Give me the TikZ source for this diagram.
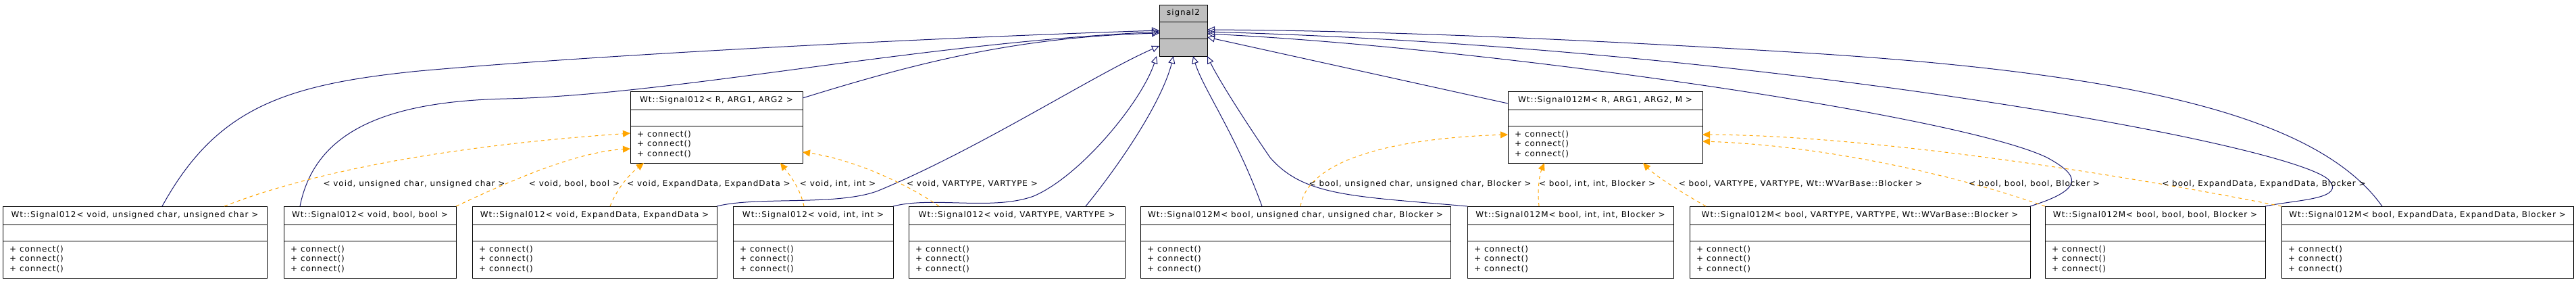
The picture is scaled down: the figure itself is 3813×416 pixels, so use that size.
\documentclass[tikz,border=0pt]{standalone}
\usepackage{fontspec}
\setmainfont{DejaVu Sans}[LetterSpace=8]
\usetikzlibrary{
    arrows.meta,
    fit,
    positioning
}

\definecolor{edgeblue}{HTML}{191970}
\definecolor{tmplorange}{HTML}{FFA500}
\definecolor{basegray}{HTML}{BFBFBF}

% one class box: name, left, right, top, title
\newcommand{\umlclass}[5]{%
    \node[umlbox, fit={(#2,#4) (#3,#4+106)}] (#1) {};
    \draw[umlbox] ([yshift=-27pt]#1.north west) -- ([yshift=-27pt]#1.north east)
                  ([yshift=-51pt]#1.north west) -- ([yshift=-51pt]#1.north east);
    \node[umltext] at ([yshift=-13.5pt]#1.north) {#5};
    \node[umlops] at ([xshift=10pt,yshift=-58pt]#1.north west)
        {+ connect()\\+ connect()\\+ connect()};
}

\begin{document}
\begin{tikzpicture}[x=1pt,y=-1pt,
    umlbox/.style={draw=black, line width=1pt, inner sep=0pt, outer sep=0pt},
    umltext/.style={inner sep=0pt, font=\fontsize{12}{14.5}\selectfont},
    umlops/.style={umltext, anchor=north west, align=left},
    lbl/.style={umltext},
    inherit/.style={draw=edgeblue, line width=1pt,
        -{Triangle[open, length=11pt, width=10pt]}},
    instance/.style={draw=tmplorange, line width=1pt, dash pattern=on 5pt off 5pt,
        -{Triangle[length=11pt, width=10pt]}}]
    \useasboundingbox (0,0) rectangle (3813,416);

    % base class
    \node[umlbox, fill=basegray, fit={(1716,7) (1787,83)}] (s2) {};
    \draw[umlbox] ([yshift=-25pt]s2.north west) -- ([yshift=-25pt]s2.north east)
                  ([yshift=-50pt]s2.north west) -- ([yshift=-50pt]s2.north east);
    \node[umltext] at ([yshift=-12.5pt]s2.north) {signal2};

    % templates
    \umlclass{t1}{933}{1188}{135}{Wt::Signal012< R, ARG1, ARG2 >}
    \umlclass{t2}{2232}{2520}{135}{Wt::Signal012M< R, ARG1, ARG2, M >}

    % instances
    \umlclass{b1}{4}{395}{305}{Wt::Signal012< void, unsigned char, unsigned char >}
    \umlclass{b2}{420}{675}{305}{Wt::Signal012< void, bool, bool >}
    \umlclass{b3}{699}{1061}{305}{Wt::Signal012< void, ExpandData, ExpandData >}
    \umlclass{b4}{1085}{1322}{305}{Wt::Signal012< void, int, int >}
    \umlclass{b5}{1345}{1665}{305}{Wt::Signal012< void, VARTYPE, VARTYPE >}
    \umlclass{b6}{1688}{2147}{305}{Wt::Signal012M< bool, unsigned char, unsigned char, Blocker >}
    \umlclass{b7}{2172}{2477}{305}{Wt::Signal012M< bool, int, int, Blocker >}
    \umlclass{b8}{2501}{3005}{305}{Wt::Signal012M< bool, VARTYPE, VARTYPE, Wt::WVarBase::Blocker >}
    \umlclass{b9}{3027}{3353}{305}{Wt::Signal012M< bool, bool, bool, Blocker >}
    \umlclass{b10}{3377}{3809}{305}{Wt::Signal012M< bool, ExpandData, ExpandData, Blocker >}

    % inheritance
    \draw[inherit] (b1.north -| 240,0) .. controls (320,160) and (420,125) .. (620,105)
                   .. controls (900,80) and (1400,55) .. (s2.west |- 0,45);
    \draw[inherit] (b2.north -| 444,0) .. controls (465,200) and (560,150) .. (750,146)
                   .. controls (1000,140) and (1350,65) .. (s2.west |- 0,47);
    \draw[inherit] (t1.east |- 0,145) .. controls (1350,95) and (1500,55) .. (s2.west |- 0,49);
    \draw[inherit] (b3.north east) .. controls (1120,290) and (1240,305) .. (1300,282)
                   .. controls (1450,220) and (1620,110) .. (s2.west |- 0,68);
    \draw[inherit] (b4.north east) .. controls (1380,290) and (1470,312) .. (1530,290)
                   .. controls (1600,260) and (1690,150) .. (s2.south -| 1712,0);
    \draw[inherit] (b5.north -| 1607,0) .. controls (1660,240) and (1720,150) .. (s2.south -| 1737,0);
    \draw[inherit] (b6.north -| 1868,0) .. controls (1830,200) and (1780,130) .. (s2.south -| 1766,0);
    \draw[inherit] (b7.north west) .. controls (2000,290) and (1930,290) .. (1880,233)
                   .. controls (1830,160) and (1800,110) .. (s2.south east);
    \draw[inherit] (t2.west |- 0,153) -- (s2.east |- 0,55);
    \draw[inherit] (b8.north east) .. controls (3085,280) and (3080,260) .. (3030,233)
                   .. controls (2900,170) and (2200,70) .. (s2.east |- 0,50);
    \draw[inherit] (b9.north east) .. controls (3400,295) and (3475,295) .. (3446,265)
                   .. controls (3380,210) and (2600,70) .. (s2.east |- 0,47);
    \draw[inherit] (b10.north -| 3526,0) .. controls (3430,170) and (3150,110) .. (2700,80)
                   .. controls (2300,55) and (2000,45) .. (s2.east |- 0,44);

    % template instances
    \draw[instance] (b1.north -| 332,0) .. controls (420,270) and (600,220) .. (t1.west |- 0,197);
    \draw[instance] (b2.north east) .. controls (750,270) and (850,225) .. (t1.west |- 0,220);
    \draw[instance] (b3.north -| 903,0) .. controls (915,275) and (935,255) .. (t1.south -| 953,0);
    \draw[instance] (b4.north -| 1190,0) .. controls (1185,280) and (1170,260) .. (t1.south -| 1155,0);
    \draw[instance] (b5.north -| 1390,0) .. controls (1340,270) and (1260,235) .. (t1.east |- 0,225);
    \draw[instance] (b6.north -| 1925,0) .. controls (1935,240) and (2050,205) .. (t2.west |- 0,199);
    \draw[instance] (b7.north -| 2278,0) .. controls (2275,275) and (2280,255) .. (t2.south -| 2286,0);
    \draw[instance] (b8.north -| 2525,0) .. controls (2490,285) and (2450,260) .. (t2.south -| 2432,0);
    \draw[instance] (b9.north west) .. controls (2900,260) and (2700,215) .. (t2.east |- 0,209);
    \draw[instance] (b10.north west) .. controls (3100,250) and (2750,200) .. (t2.east |- 0,199);

    % template arguments
    \node[lbl] (lb1) at (613,272) {< void, unsigned char, unsigned char >};
    \node[lbl] (lb2) at (850,272) {< void, bool, bool >};
    \node[lbl] (lb3) at (1049,272) {< void, ExpandData, ExpandData >};
    \node[lbl] (lb4) at (1240,272) {< void, int, int >};
    \node[lbl] (lb5) at (1439,272) {< void, VARTYPE, VARTYPE >};
    \node[lbl] (lb6) at (2102,272) {< bool, unsigned char, unsigned char, Blocker >};
    \node[lbl] (lb7) at (2364,272) {< bool, int, int, Blocker >};
    \node[lbl] (lb8) at (2665,272) {< bool, VARTYPE, VARTYPE, Wt::WVarBase::Blocker >};
    \node[lbl] (lb9) at (3011,272) {< bool, bool, bool, Blocker >};
    \node[lbl] (lb10) at (3351,272) {< bool, ExpandData, ExpandData, Blocker >};
\end{tikzpicture}
\end{document}
